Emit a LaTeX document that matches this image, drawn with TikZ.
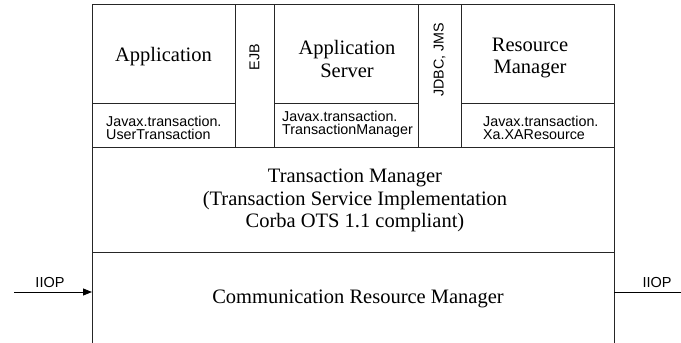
\documentclass[tikz,border=0pt]{standalone}
\usepackage{fontspec}
\setmainfont{Liberation Serif}
\setsansfont{Liberation Sans}
\usetikzlibrary{arrows.meta}
\begin{document}
\begin{tikzpicture}[x=1pt,y=-1pt,
  frame/.style={draw=black!85,line width=0.9pt},
  serif/.style={font=\fontsize{20.5}{22.5}\selectfont,align=center,inner sep=0pt},
  sub/.style={font=\sffamily\fontsize{14.3}{12.8}\selectfont,align=left,inner sep=0pt,anchor=west},
  vert/.style={font=\sffamily\fontsize{14.3}{14}\selectfont,rotate=90,inner sep=0pt},
  lbl/.style={font=\sffamily\fontsize{14.5}{14}\selectfont,inner sep=0pt}]
\useasboundingbox (0,0) rectangle (681,343);
% outer frame and dividers
\draw[frame] (92,343) -- (92,4) -- (614,4) -- (614,343);
\draw[frame] (92,147) -- (614,147);
\draw[frame] (92,252) -- (614,252);
\draw[frame] (235,4) -- (235,147);
\draw[frame] (274,4) -- (274,147);
\draw[frame] (418,4) -- (418,147);
\draw[frame] (461,4) -- (461,147);
\draw[frame] (92,103) -- (235,103);
\draw[frame] (274,103) -- (418,103);
\draw[frame] (461,103) -- (614,103);
% top texts
\node[serif] (app) at (163.5,57) {Application};
\node[vert] (ejb) at (254.5,57) {EJB};
\node[serif] (appsrv) at (347,59) {Application\\Server};
\node[vert] (jdbc) at (439.5,60) {JDBC, JMS};
\node[serif] (rm) at (530,58) {Resource\\Manager};
% sub texts
\node[sub] (ut) at (106,128) {Javax.transaction.\\UserTransaction};
\node[sub] (tm) at (282,124.5) {Javax.transaction.\\TransactionManager};
\node[sub] (xa) at (483,127.5) {Javax.transaction.\\Xa.XAResource};
% middle and bottom texts
\node[serif] (tmgr) at (355,200.5) {Transaction Manager\\(Transaction Service Implementation\\Corba OTS 1.1 compliant)};
\node[serif] (crm) at (358,299) {Communication Resource Manager};
% IIOP connectors
\coordinate (lin) at (14,292);
\coordinate (lend) at (92,292);
\coordinate (rstart) at (614,292);
\coordinate (rout) at (681,292);
\draw[line width=0.9pt,-{Triangle[length=9pt,width=7pt]}] (lin) -- (lend);
\draw[line width=0.9pt] (rstart) -- (rout);
\node[lbl] (iiopl) at (50,283) {IIOP};
\node[lbl] (iiopr) at (657,283) {IIOP};
\end{tikzpicture}
\end{document}
